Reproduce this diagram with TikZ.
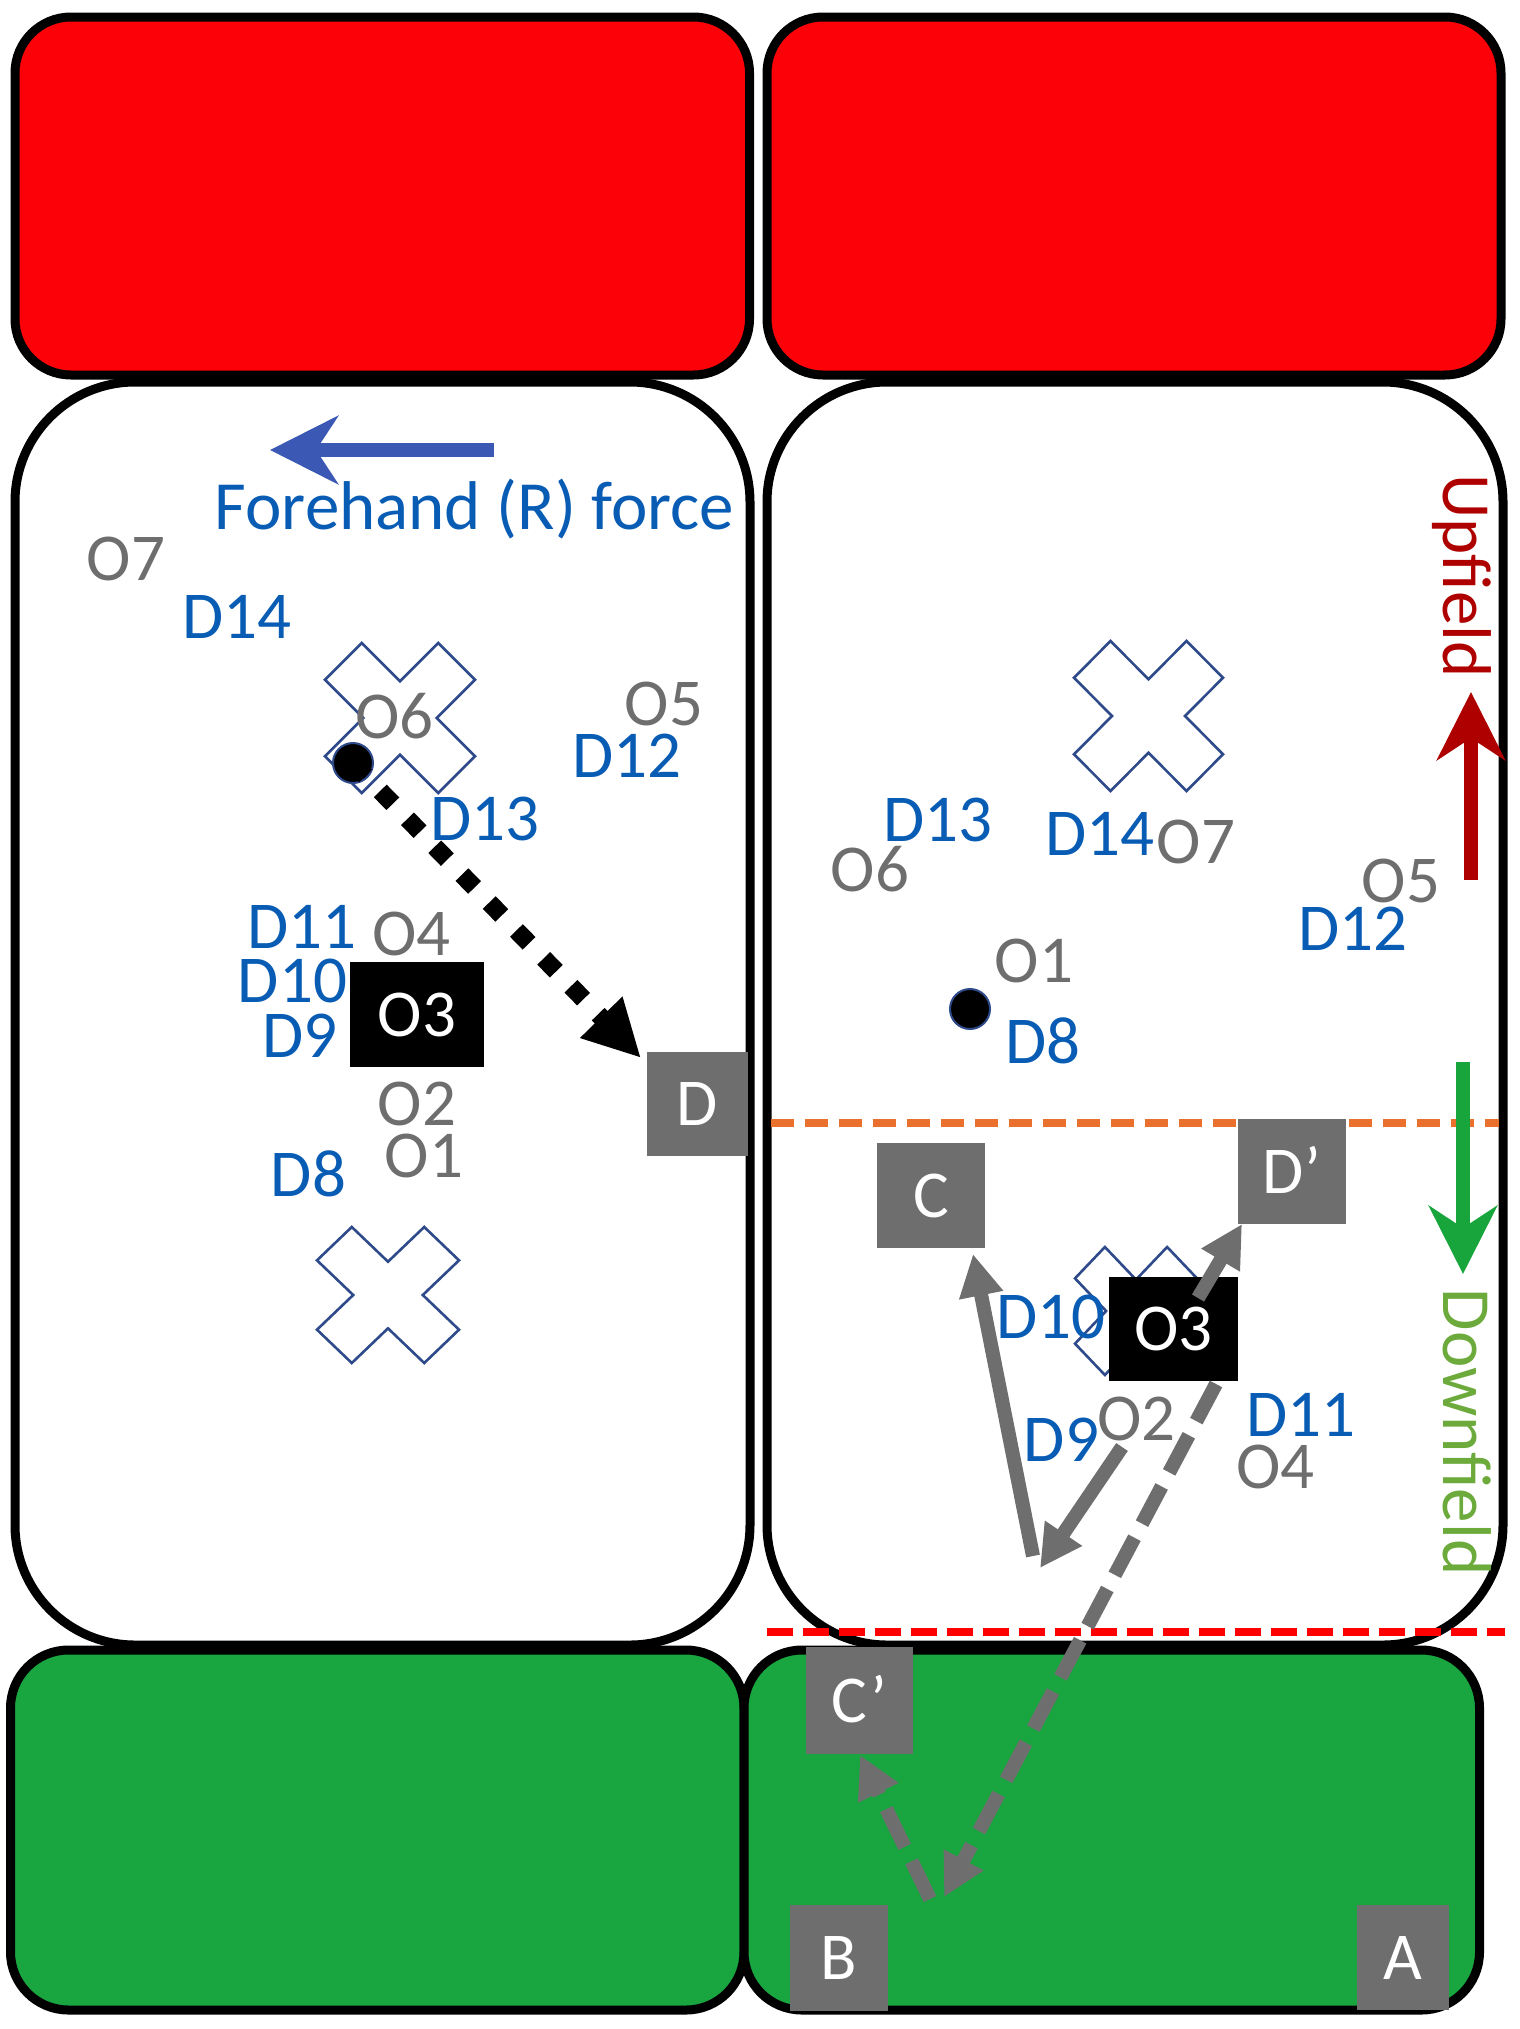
\documentclass[tikz,border=0pt]{standalone}
\usepackage{fontspec}
\setmainfont{Carlito}
\usetikzlibrary{arrows.meta}

\definecolor{fieldred}{RGB}{252,2,8}
\definecolor{fieldgreen}{RGB}{25,165,63}
\definecolor{lblblue}{RGB}{8,92,180}
\definecolor{lblgray}{RGB}{110,110,110}
\definecolor{boxgray}{RGB}{110,110,110}
\definecolor{arrowblue}{RGB}{59,89,180}
\definecolor{updark}{RGB}{175,0,0}
\definecolor{downgreen}{RGB}{24,165,60}
\definecolor{downtext}{RGB}{108,170,60}
\definecolor{xblue}{RGB}{47,74,138}
\definecolor{lineorange}{RGB}{233,113,45}
\definecolor{linered}{RGB}{255,0,0}

\newcommand{\fieldX}[4]{%
  \draw[xmark, shift={(#1,#2)}, xscale=#3, yscale=#4]
    (-0.51,-1) -- (0,-0.49) -- (0.51,-1) -- (1,-0.51) -- (0.49,0) -- (1,0.51)
    -- (0.51,1) -- (0,0.49) -- (-0.51,1) -- (-1,0.51) -- (-0.49,0) -- (-1,-0.51) -- cycle;}

\begin{document}
\begin{tikzpicture}[x=1pt,y=-1pt,
  zone/.style={draw=black,line width=9pt},
  lblfont/.style={font=\fontsize{67}{80}\selectfont},
  bigfont/.style={font=\fontsize{69}{82}\selectfont},
  dlbl/.style={lblfont,text=lblblue,inner sep=0pt,anchor=base},
  olbl/.style={lblfont,text=lblgray,inner sep=0pt,anchor=base},
  gbox/.style={lblfont,fill=boxgray,text=white,inner sep=0pt,text height=43pt,text depth=0pt},
  obox/.style={lblfont,fill=black,text=white,inner sep=0pt,text height=43pt,text depth=0pt},
  xmark/.style={draw=xblue,line width=2.6pt,fill=white,line join=miter},
  pdot/.style={circle,fill=black,draw=xblue,line width=2pt,minimum size=40pt,inner sep=0pt},
  bigarrow/.style={line width=14pt,-{Stealth[length=68pt,width=68pt,inset=22pt]}},
  grayarrow/.style={boxgray,line width=14pt,-{Triangle[length=42pt,width=42pt]}},
  graydash/.style={grayarrow,dash pattern=on 42pt off 16pt},
]
\useasboundingbox (0,0) rectangle (1519,2029);

% ---------- field zones ----------
\draw[zone,fill=white,rounded corners=120pt] (15,382) rectangle (750,1645);
\draw[zone,fill=white,rounded corners=120pt] (767,382) rectangle (1503,1645);
\draw[zone,fill=fieldred,rounded corners=56pt] (15,17) rectangle (749.5,375);
\draw[zone,fill=fieldred,rounded corners=56pt] (767,17) rectangle (1501,375);
\draw[zone,fill=fieldgreen,rounded corners=58pt] (10.5,1650) rectangle (744,2010);
\draw[zone,fill=fieldgreen,rounded corners=58pt] (744,1650) rectangle (1479.5,2010);

% ---------- cones ----------
\fieldX{400}{718}{75}{75}
\fieldX{388}{1295}{71}{68}
\fieldX{1148.5}{716}{74.5}{75}
\fieldX{1136}{1311}{61}{64}

% ---------- guide lines ----------
\coordinate (or1) at (771,1123);
\coordinate (or2) at (1499,1123);
\draw[lineorange,line width=8pt,dash pattern=on 23pt off 11pt] (or1) -- (or2);
\coordinate (rd1) at (767,1632);
\coordinate (rd2) at (1505,1632);
\draw[linered,line width=8pt,dash pattern=on 26pt off 10pt] (rd1) -- (rd2);

% ---------- left panel ----------
\coordinate (fh1) at (494,450);
\coordinate (fh2) at (270,450);
\draw[arrowblue,bigarrow] (fh1) -- (fh2);
\node[bigfont,text=lblblue,inner sep=0pt,anchor=base] (forehand) at (474.5,529) {Forehand (R) force};

\node[olbl] (o7L) at (126,580) {O7};
\node[dlbl] (d14L) at (237,638) {D14};
\node[olbl] (o6L) at (394.5,738) {O6};
\node[olbl] (o5L) at (664,725) {O5};
\node[dlbl] (d12L) at (627,777) {D12};
\node[dlbl] (d13L) at (485,840) {D13};
\node[dlbl] (d11L) at (302,948) {D11};
\node[olbl] (o4L) at (411.5,955) {O4};
\node[dlbl] (d10L) at (292.5,1002) {D10};
\node[dlbl] (d9L) at (300,1057) {D9};
\node[olbl] (o2L) at (417,1125) {O2};
\node[olbl] (o1L) at (424,1177) {O1};
\node[dlbl] (d8L) at (308.5,1196) {D8};
\node[obox,minimum width=134pt,minimum height=105pt] (o3L) at (417,1014.5) {O3};
\node[gbox,minimum width=101pt,minimum height=104pt] (D) at (697.5,1104) {D};

\node[pdot] (dotL) at (353,763) {};
\coordinate (tipD) at (641,1058);
\draw[line width=18pt,dash pattern=on 18pt off 21pt,-{Triangle[length=57pt,width=55pt]}] (dotL.center) -- (tipD);

% ---------- right panel ----------
\coordinate (up1) at (1471,880);
\coordinate (up2) at (1471,692);
\draw[updark,bigarrow] (up1) -- (up2);
\node[bigfont,text=updark,inner sep=0pt,anchor=base,rotate=-90] (upfield) at (1443,576) {Upfield};
\coordinate (dn1) at (1463,1062);
\coordinate (dn2) at (1463,1274);
\draw[downgreen,bigarrow] (dn1) -- (dn2);
\node[bigfont,text=downtext,inner sep=0pt,anchor=base,rotate=-90] (downfield) at (1443,1432) {Downfield};

\node[dlbl] (d13R) at (938,841) {D13};
\node[olbl] (o6R) at (870,891) {O6};
\node[dlbl] (d14R) at (1100,855) {D14};
\node[olbl] (o7R) at (1196,863) {O7};
\node[olbl] (o5R) at (1401,902) {O5};
\node[dlbl] (d12R) at (1353,950) {D12};
\node[olbl] (o1R) at (1034,982) {O1};
\node[pdot] (dotR) at (970,1009) {};
\node[dlbl] (d8R) at (1043,1063) {D8};

\node[gbox,minimum width=108pt,minimum height=105pt] (C) at (931,1195.5) {C};
\node[gbox,minimum width=108pt,minimum height=105pt] (Dp) at (1292,1171.5) {D’};
\node[dlbl] (d10R) at (1051,1338) {D10};
\node[obox,minimum width=129pt,minimum height=104pt] (o3R) at (1173.5,1329) {O3};
\node[dlbl] (d9R) at (1061.5,1461) {D9};
\node[olbl] (o2R) at (1136.5,1440) {O2};
\node[dlbl] (d11R) at (1301,1436) {D11};
\node[olbl] (o4R) at (1275.5,1488) {O4};

\node[gbox,minimum width=107pt,minimum height=107pt] (Cp) at (859.5,1700.5) {C’};
\node[gbox,minimum width=98pt,minimum height=106pt] (B) at (839,1958) {B};
\node[gbox,minimum width=92pt,minimum height=105pt] (A) at (1403,1957.5) {A};

% cuts
\coordinate (g1s) at (1122,1447);
\coordinate (g1e) at (1040,1568);
\draw[grayarrow] (g1s) -- (g1e);
\coordinate (g2s) at (1033,1556);
\coordinate (g2e) at (973,1254);
\draw[grayarrow] (g2s) -- (g2e);
\coordinate (g3s) at (1198,1298);
\coordinate (g3e) at (1242,1224);
\draw[grayarrow] (g3s) -- (g3e);
\coordinate (g4s) at (1216,1384);
\coordinate (g4e) at (944,1897);
\draw[graydash] (g4s) -- (g4e);
\coordinate (g5s) at (930,1899);
\coordinate (g5e) at (860,1755);
\draw[graydash] (g5s) -- (g5e);

\end{tikzpicture}
\end{document}
